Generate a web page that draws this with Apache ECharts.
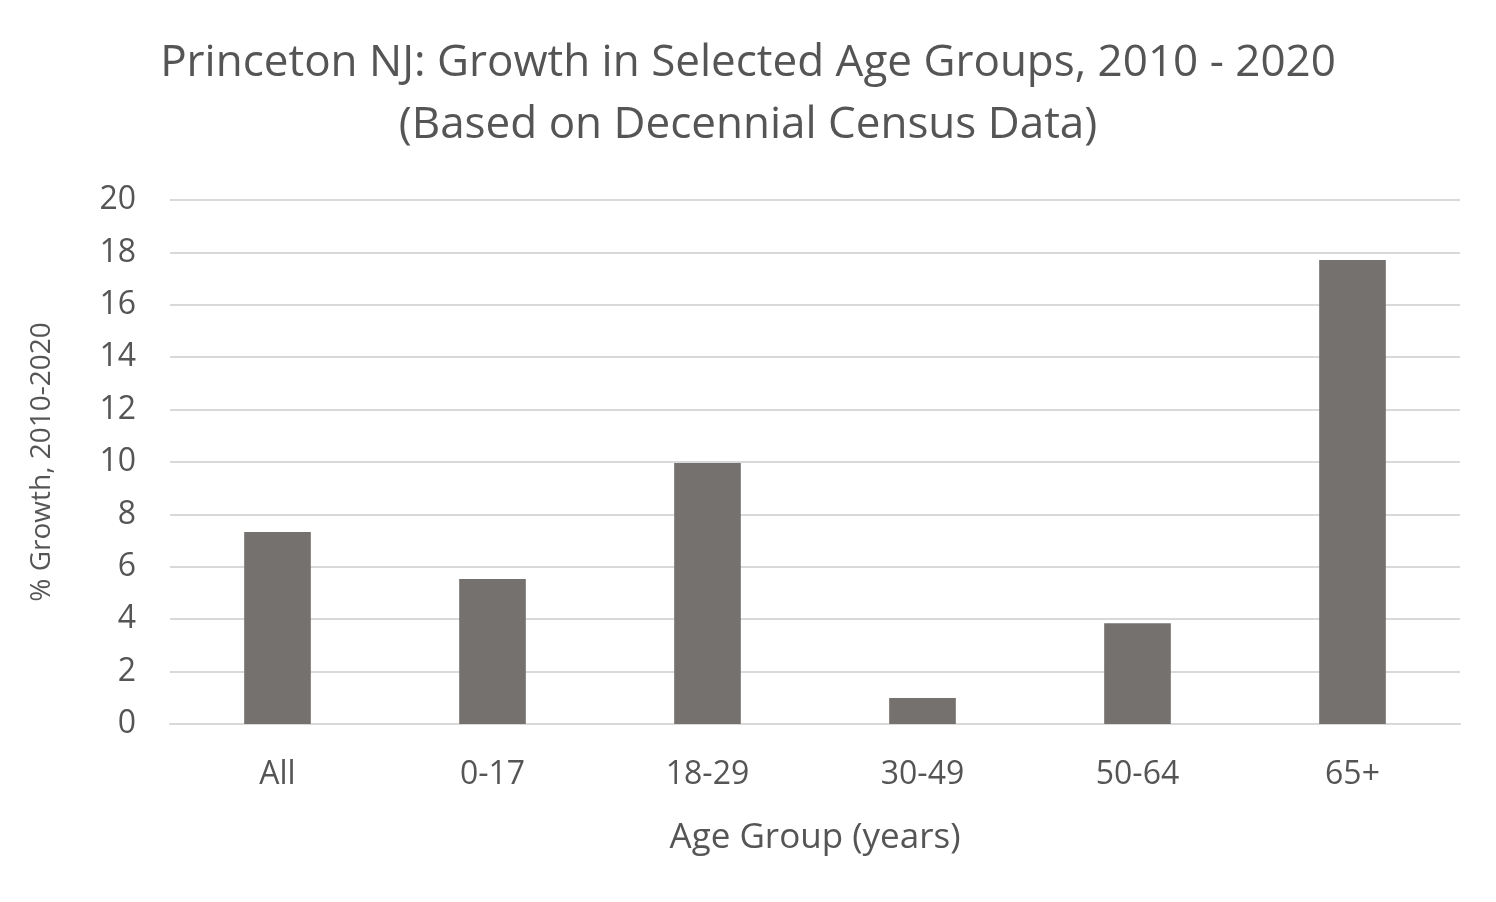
<!DOCTYPE html>
<html><head><meta charset="utf-8">
<script src="https://cdn.jsdelivr.net/npm/echarts@6/dist/echarts.min.js"></script>
<style>html,body{margin:0;padding:0;background:#fff}#c{width:1496px;height:902px}</style>
</head><body><div id="c"></div>
<script>
const categories = ['All', '0-17', '18-29', '30-49', '50-64', '65+'];
const growth = [7.33, 5.53, 9.96, 0.99, 3.85, 17.71];
const yTicks = { min: 0, max: 20, interval: 2 };

const font = 'Open Sans';
const chart = echarts.init(document.getElementById('c'));
chart.setOption({
  backgroundColor: '#fff',
  animation: false,
  title: {
    text: 'Princeton NJ: Growth in Selected Age Groups, 2010 - 2020\n(Based on Decennial Census Data)',
    left: 'center', top: 27,
    textStyle: { fontFamily: font, fontSize: 44, fontWeight: 'normal', color: '#555555', lineHeight: 62 }
  },
  grid: { left: 170, right: 36, top: 200, bottom: 178 },
  xAxis: {
    type: 'category', data: categories,
    name: 'Age Group (years)', nameLocation: 'middle', nameGap: 97,
    nameTextStyle: { fontFamily: font, fontSize: 35, color: '#555555' },
    axisLine: { lineStyle: { color: '#d9d9d9', width: 2 } },
    axisTick: { show: false },
    axisLabel: { fontFamily: font, fontSize: 32, color: '#555555', margin: 35 }
  },
  yAxis: {
    type: 'value', min: yTicks.min, max: yTicks.max, interval: yTicks.interval,
    name: '% Growth, 2010-2020', nameLocation: 'middle', nameGap: 114,
    nameTextStyle: { fontFamily: font, fontSize: 28, color: '#555555' },
    axisLine: { show: false }, axisTick: { show: false },
    splitLine: { lineStyle: { color: '#d9d9d9', width: 2 } },
    axisLabel: { fontFamily: font, fontSize: 32, color: '#555555', margin: 34 }
  },
  series: [{
    type: 'bar', data: growth, barWidth: '31%',
    itemStyle: { color: '#75716f' }
  }]
});
</script></body></html>
